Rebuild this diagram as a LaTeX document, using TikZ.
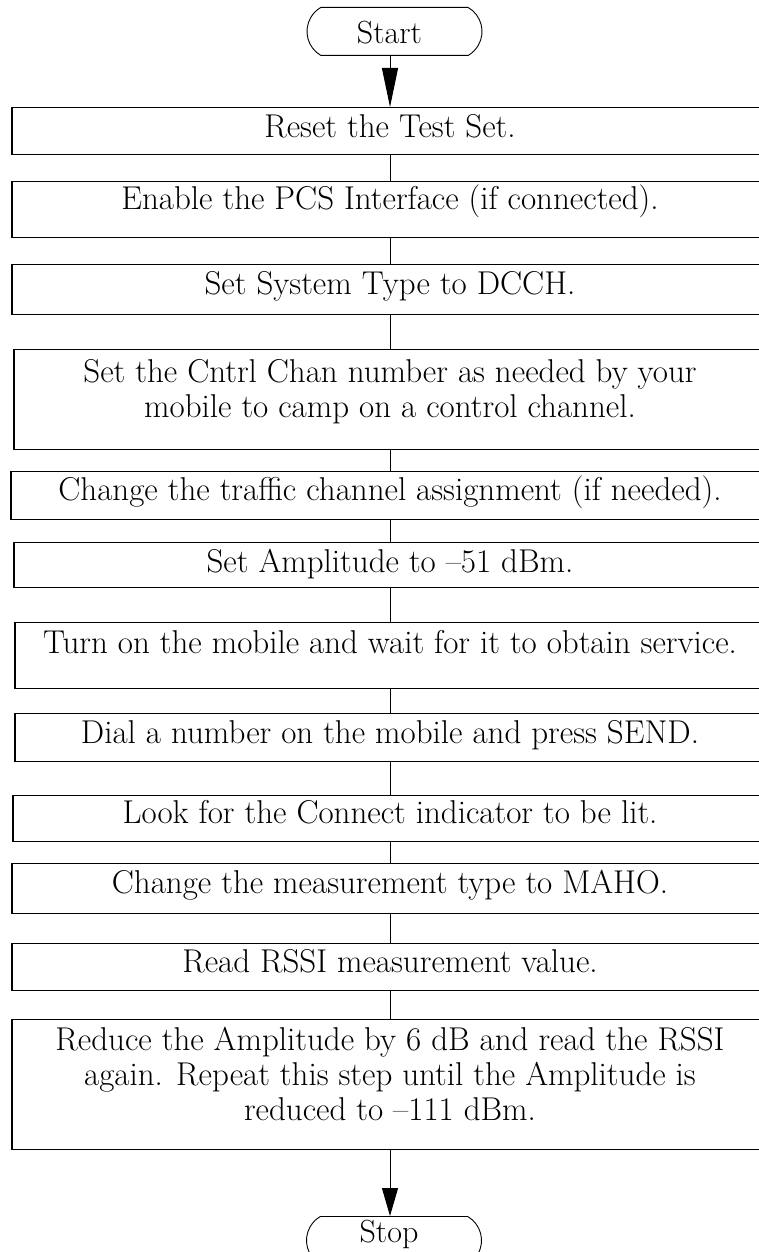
\documentclass[tikz,border=0pt]{standalone}
\usepackage{fontspec}
\usetikzlibrary{arrows.meta,shapes.misc}
\begin{document}
\begin{tikzpicture}[x=1pt,y=1pt,
  stepbox/.style={draw, line width=1.3pt, inner xsep=0pt, inner ysep=0pt, anchor=north, align=center, font=\fontsize{33}{35}\selectfont},
  term/.style={draw, line width=0.9pt, rounded rectangle, rounded rectangle arc length=120, minimum width=175pt, minimum height=48pt, inner sep=0pt, anchor=north, font=\fontsize{32}{35}\selectfont},
  conn/.style={line width=1pt},
  arr/.style={line width=1pt, -{Triangle[length=#1,width=16pt]}}]
\path[use as bounding box] (0,0) rectangle (759,-1252);
\clip (0,0) rectangle (759,-1252);

\node[term, text height=36pt, text depth=12pt] (start) at (394.5,-7) {Start\hspace*{10pt}};

\node[stepbox, minimum width=756pt, text height=30pt, text depth=17pt] (b1) at (390,-107) {Reset the Test Set.};
\node[stepbox, minimum width=756pt, text height=28pt, text depth=28pt] (b2) at (390,-181) {Enable the PCS Interface (if connected).};
\node[stepbox, minimum width=756pt, text height=30pt, text depth=20pt] (b3) at (390,-264) {Set System Type to DCCH.};
\node[stepbox, minimum width=752pt, text height=68pt, text depth=32pt] (b4) at (390,-349) {Set the Cntrl Chan number as needed by your\\mobile to camp on a control channel.};
\node[stepbox, minimum width=758pt, text height=29pt, text depth=19pt] (b5) at (390,-471) {Change the traffic channel assignment (if needed).};
\node[stepbox, minimum width=752pt, text height=30pt, text depth=15pt] (b6) at (390,-542) {Set Amplitude to –51 dBm.};
\node[stepbox, minimum width=750pt, text height=31pt, text depth=35pt] (b7) at (390,-622) {Turn on the mobile and wait for it to obtain service.};
\node[stepbox, minimum width=750pt, text height=30pt, text depth=18pt] (b8) at (390,-713) {Dial a number on the mobile and press SEND.};
\node[stepbox, minimum width=754pt, text height=28pt, text depth=18pt] (b9) at (390,-795) {Look for the Connect indicator to be lit.};
\node[stepbox, minimum width=756pt, text height=30pt, text depth=20pt] (b10) at (390,-863) {Change the measurement type to MAHO.};
\node[stepbox, minimum width=756pt, text height=29pt, text depth=18pt] (b11) at (390,-943) {Read RSSI measurement value.};
\node[stepbox, minimum width=756pt, text height=101pt, text depth=29pt] (b12) at (390,-1019) {Reduce the Amplitude by 6 dB and read the RSSI\\again. Repeat this step until the Amplitude is\\reduced to –111 dBm.};

\node[term, text height=26pt, text depth=22pt] (stop) at (394,-1216) {Stop\hspace*{10pt}};

\draw[arr=39pt] (start.south -| b1.north) -- (b1.north);
\foreach \a/\b in {b1/b2,b2/b3,b3/b4,b4/b5,b5/b6,b6/b7,b7/b8,b8/b9,b9/b10,b10/b11,b11/b12}
  \draw[conn] (\a.south) -- (\b.north);
\draw[arr=28pt] (b12.south) -- (stop.north -| b12.south);
\end{tikzpicture}
\end{document}
